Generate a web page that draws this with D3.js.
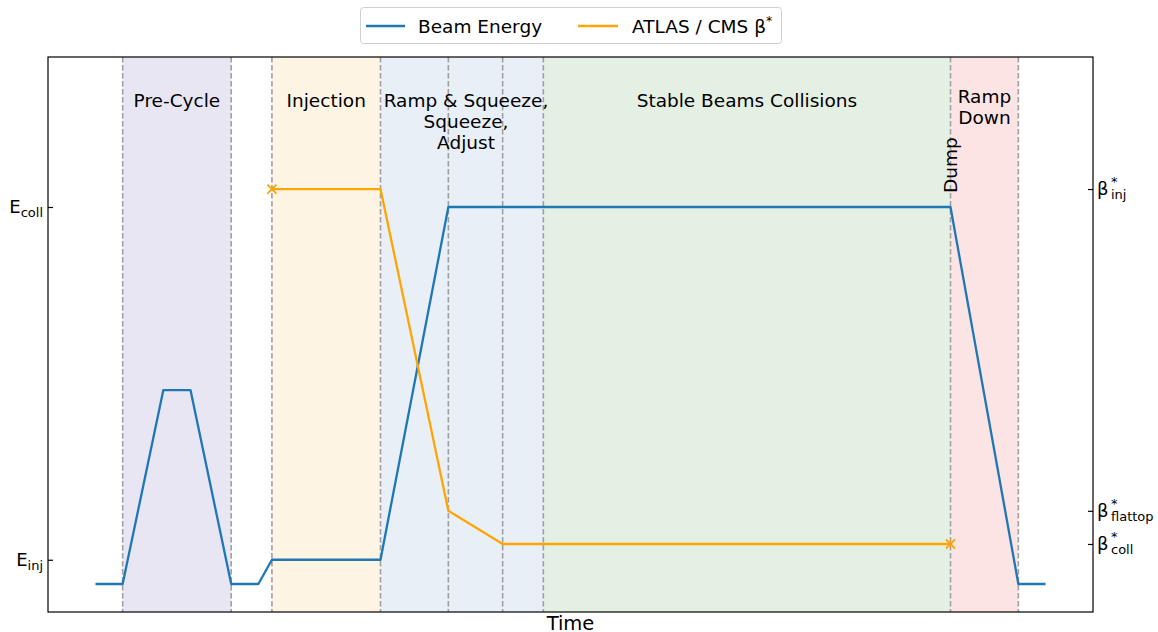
<!DOCTYPE html>
<html><head><meta charset="utf-8">
<script src="https://cdn.jsdelivr.net/npm/d3@7"></script>
<style>body{margin:0;background:#fff}svg{font-family:"DejaVu Sans",sans-serif}</style>
</head><body><svg id="c" width="1158" height="632"></svg>
<script>
// Data
const energyT = [0, 2, 5, 7, 10, 12, 13, 21, 26, 63, 68, 70];
const energyV = [0, 0, 3.6, 3.6, 0, 0, 0.45, 0.45, 7, 7, 0, 0];
const betaT = [13, 21, 26, 30, 63];
const betaV = [11, 11, 1.3, 0.3, 0.3];
const betaMarkT = [13, 63];
const betaMarkV = [11, 0.3];
const phaseBounds = [2, 10, 13, 21, 26, 30, 33, 63, 68];
const phaseStart = [2, 13, 21, 33, 63];
const phaseEnd = [10, 21, 33, 63, 68];
const phaseFill = ["#e9e6f3", "#fef4e4", "#e8eff7", "#e5f0e4", "#fde4e4"];
const phaseLabels = [["Pre-Cycle"], ["Injection"], ["Ramp & Squeeze,", "Squeeze,", "Adjust"], ["Stable Beams Collisions"], ["Ramp", "Down"]];
const phaseLabelT = [6, 17, 27.3, 48, 65.5];
const leftTickV = [0.45, 7];
const leftTickLab = [["E", "inj"], ["E", "coll"]];
const rightTickV = [11, 1.3, 0.3];
const rightTickLab = [["β", "inj"], ["β", "flattop"], ["β", "coll"]];

const L = 48, R = 1093, T = 57, B = 612;
const svg = d3.select("#c");
const x = d3.scaleLinear().domain([-3.5, 73.5]).range([L, R]);
const yE = d3.scaleLinear().domain([-0.52, 9.785]).range([B, T]);
const yB = d3.scaleLinear().domain([-1.75, 14.98]).range([B, T]);

// phase fills
svg.append("g").selectAll("rect").data(phaseStart).join("rect")
  .attr("x", (d) => x(d)).attr("y", T)
  .attr("width", (d, i) => x(phaseEnd[i]) - x(d)).attr("height", B - T)
  .attr("fill", (d, i) => phaseFill[i]);

// dashed lines
svg.append("g").selectAll("line").data(phaseBounds).join("line")
  .attr("x1", d => x(d)).attr("x2", d => x(d)).attr("y1", T).attr("y2", B)
  .attr("stroke", "#a0a0a0").attr("stroke-width", 1.6).attr("stroke-dasharray", "5.5,2.5");

// phase labels
phaseLabels.forEach((lines, i) => {
  const startY = (i === 4) ? 103 : 107;
  const t = svg.append("text").attr("text-anchor", "middle").attr("font-size", 18.5).attr("fill", "#000");
  lines.forEach((ln, j) => {
    t.append("tspan").attr("x", x(phaseLabelT[i])).attr("y", startY + j * 21).text(ln);
  });
});

// Dump text
svg.append("text").attr("transform", `translate(${x(63) + 6},${165}) rotate(-90)`)
  .attr("text-anchor", "middle").attr("font-size", 18.5).text("Dump");

// lines
const lineE = d3.line().x((d, i) => x(energyT[i])).y(d => yE(d));
svg.append("path").attr("d", lineE(energyV)).attr("fill", "none").attr("stroke", "#1f77b4").attr("stroke-width", 2.3).attr("stroke-linejoin", "round");
const lineB = d3.line().x((d, i) => x(betaT[i])).y(d => yB(d));
svg.append("path").attr("d", lineB(betaV)).attr("fill", "none").attr("stroke", "#ffa500").attr("stroke-width", 2.3).attr("stroke-linejoin", "round");
// x markers
const ms = 4.5;
svg.append("g").selectAll("path").data(betaMarkT).join("path")
  .attr("d", (d, i) => { const cx = x(d), cy = yB(betaMarkV[i]); return `M${cx-ms},${cy-ms}L${cx+ms},${cy+ms}M${cx-ms},${cy+ms}L${cx+ms},${cy-ms}`; })
  .attr("stroke", "#ffa500").attr("stroke-width", 1.8);

// frame
svg.append("rect").attr("x", L).attr("y", T).attr("width", R - L).attr("height", B - T)
  .attr("fill", "none").attr("stroke", "#000").attr("stroke-width", 1.2);

// left axis
const la = d3.axisLeft(yE).tickValues(leftTickV).tickSizeInner(-5).tickSizeOuter(0).tickFormat("");
const lg = svg.append("g").attr("transform", `translate(${L},0)`).call(la);
lg.select(".domain").remove();
lg.selectAll(".tick line").attr("stroke-width", 1.2);
leftTickV.forEach((v, i) => {
  const t = svg.append("text").attr("x", L - 5).attr("y", yE(v) + 6).attr("text-anchor", "end").attr("font-size", 18);
  t.append("tspan").text(leftTickLab[i][0]);
  t.append("tspan").attr("font-size", 13).attr("dy", 4).text(leftTickLab[i][1]);
});
// right axis
const ra = d3.axisRight(yB).tickValues(rightTickV).tickSizeInner(-5).tickSizeOuter(0).tickFormat("");
const rg = svg.append("g").attr("transform", `translate(${R},0)`).call(ra);
rg.select(".domain").remove();
rg.selectAll(".tick line").attr("stroke-width", 1.2);
rightTickV.forEach((v, i) => {
  const t = svg.append("text").attr("x", R + 4).attr("y", yB(v) + 6).attr("font-size", 18);
  t.append("tspan").text(rightTickLab[i][0]);
  const g = svg.append("text").attr("x", R + 18).attr("font-size", 13);
  g.append("tspan").attr("y", yB(v) - 3).text("*");
  g.append("tspan").attr("x", R + 18).attr("y", yB(v) + 10).text(rightTickLab[i][1]);
});

// x label
svg.append("text").attr("x", (L + R) / 2).attr("y", 630).attr("text-anchor", "middle").attr("font-size", 19.5).text("Time");

// legend
const lgd = svg.append("g");
lgd.append("rect").attr("x", 360.5).attr("y", 7.5).attr("width", 421).attr("height", 36).attr("rx", 3)
  .attr("fill", "#fff").attr("stroke", "#d0d0d0");
lgd.append("line").attr("x1", 366).attr("x2", 405).attr("y1", 26).attr("y2", 26).attr("stroke", "#1f77b4").attr("stroke-width", 2.3);
lgd.append("text").attr("x", 418).attr("y", 32.5).attr("font-size", 18.5).text("Beam Energy");
lgd.append("line").attr("x1", 578).attr("x2", 618).attr("y1", 26).attr("y2", 26).attr("stroke", "#ffa500").attr("stroke-width", 2.3);
const lt = lgd.append("text").attr("x", 632).attr("y", 32.5).attr("font-size", 18.5);
lt.append("tspan").text("ATLAS / CMS β");
lt.append("tspan").attr("font-size", 12.5).attr("dy", -8).text("*");
</script></body></html>
